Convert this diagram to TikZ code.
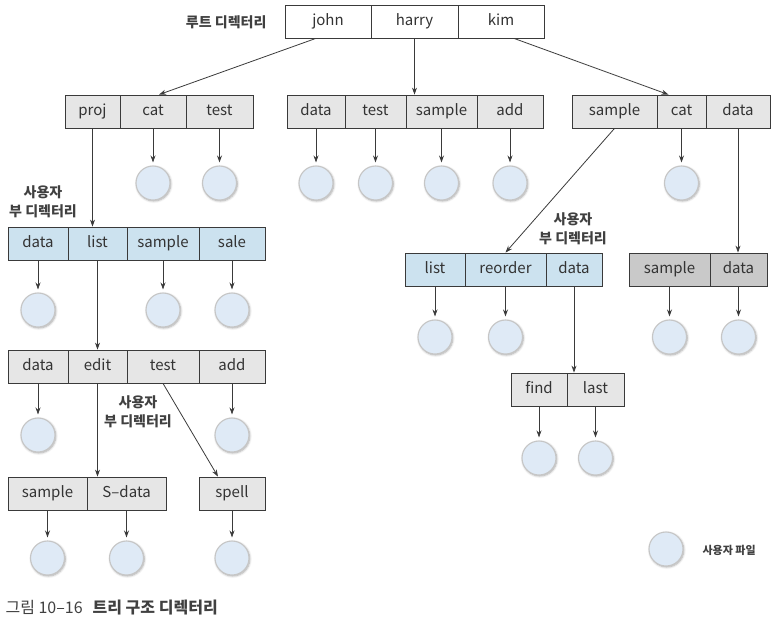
\documentclass[tikz,border=0pt]{standalone}
\usepackage{fontspec}
\setmainfont{Noto Sans CJK KR}
\usetikzlibrary{arrows.meta,calc,shadows.blur}

\definecolor{boxgray}{HTML}{E6E6E6}
\definecolor{boxblue}{HTML}{CCE2EF}
\definecolor{boxdark}{HTML}{C9C9C9}
\definecolor{filefill}{HTML}{DFEAF6}
\definecolor{lineclr}{HTML}{3A3A3A}

\tikzset{
  cell/.style={draw=lineclr, line width=0.8pt, minimum height=33pt, inner sep=0pt,
    font=\fontsize{15}{18}\selectfont, text=black!80,
    text height=12pt, text depth=4pt},
  rootcell/.style={cell, fill=white},
  gcell/.style={cell, fill=boxgray},
  bcell/.style={cell, fill=boxblue},
  dcell/.style={cell, fill=boxdark},
  file/.style={circle, minimum size=34pt, inner sep=0pt, fill=filefill,
    draw=gray!45, line width=1.1pt,
    blur shadow={shadow xshift=0.8pt, shadow yshift=-1pt, shadow blur steps=6, shadow opacity=35}},
  arr/.style={draw=lineclr, line width=0.8pt, -{Stealth[length=7pt,width=5pt]}},
  farr/.style={arr, shorten >=3pt},
  note/.style={font=\fontsize{14}{19}\selectfont\bfseries, text=black!75, align=center},
}

\begin{document}
\begin{tikzpicture}[x=1pt,y=-1pt]
\useasboundingbox (0,0) rectangle (776,627);

% root directory
\node[note, anchor=east] (rootlbl) at (270,22) {루트 디렉터리};
\node[rootcell, minimum width=86pt] (john)  at (328,21.5)   {john};
\node[rootcell, minimum width=87pt] (harry) at (414.5,21.5) {harry};
\node[rootcell, minimum width=86pt] (kim)   at (501,21.5)   {kim};

% john
\node[gcell, minimum width=55pt] (Aproj) at (92.5,111.5) {proj};
\node[gcell, minimum width=66pt] (Acat)  at (153,111.5)  {cat};
\node[gcell, minimum width=67pt] (Atest) at (219.5,111.5) {test};

% harry
\node[gcell, minimum width=58pt] (Bdata)   at (316,111.5)   {data};
\node[gcell, minimum width=61pt] (Btest)   at (375.5,111.5) {test};
\node[gcell, minimum width=71pt] (Bsample) at (441.5,111.5) {sample};
\node[gcell, minimum width=66pt] (Badd)    at (510,111.5)   {add};

% kim
\node[gcell, minimum width=85pt] (Csample) at (614.5,111.5) {sample};
\node[gcell, minimum width=49pt] (Ccat)    at (681.5,111.5) {cat};
\node[gcell, minimum width=64pt] (Cdata)   at (738,111.5)   {data};

% proj sub-directory
\node[bcell, minimum width=60pt] (Ddata)   at (38,243.5)  {data};
\node[bcell, minimum width=59pt] (Dlist)   at (97.5,243.5) {list};
\node[bcell, minimum width=72pt] (Dsample) at (163,243.5) {sample};
\node[bcell, minimum width=66pt] (Dsale)   at (232,243.5) {sale};

% list sub-directory
\node[gcell, minimum width=60pt] (Edata) at (38,366.5)  {data};
\node[gcell, minimum width=59pt] (Eedit) at (97.5,366.5) {edit};
\node[gcell, minimum width=72pt] (Etest) at (163,366.5) {test};
\node[gcell, minimum width=66pt] (Eadd)  at (232,366.5) {add};

% edit and test sub-directories
\node[gcell, minimum width=79pt] (Fsample) at (47.5,493.5)  {sample};
\node[gcell, minimum width=79pt] (Fsdata)  at (126.5,493.5) {S–data};
\node[gcell, minimum width=66pt] (spell)   at (232,493.5)   {spell};

% kim/sample sub-directory
\node[bcell, minimum width=60pt] (Glist)    at (435,269.5)   {list};
\node[bcell, minimum width=81pt] (Greorder) at (505.5,269.5) {reorder};
\node[bcell, minimum width=56pt] (Gdata)    at (574,269.5)   {data};

% kim/data sub-directory
\node[dcell, minimum width=81pt] (Hsample) at (669.5,269.5) {sample};
\node[dcell, minimum width=57pt] (Hdata)   at (738.5,269.5) {data};

% kim/sample/data sub-directory
\node[gcell, minimum width=56pt] (Ifind) at (539,389.5)   {find};
\node[gcell, minimum width=57pt] (Ilast) at (595.5,389.5) {last};

% user files
\node[file] (fAcat)  at (153,183) {};
\node[file] (fAtest) at (219.5,183) {};
\node[file] (fBdata)   at (316,183) {};
\node[file] (fBtest)   at (375.5,183) {};
\node[file] (fBsample) at (441.5,183) {};
\node[file] (fBadd)    at (510,183) {};
\node[file] (fCcat)    at (681.5,183) {};
\node[file] (fDdata)   at (38,310) {};
\node[file] (fDsample) at (163,310) {};
\node[file] (fDsale)   at (232,310) {};
\node[file] (fEdata)   at (38,435) {};
\node[file] (fEadd)    at (232,435) {};
\node[file] (fGlist)    at (435,337) {};
\node[file] (fGreorder) at (505.5,337) {};
\node[file] (fHsample)  at (669.5,337) {};
\node[file] (fHdata)    at (738.5,337) {};
\node[file] (fIfind) at (539,458) {};
\node[file] (fIlast) at (595.5,458) {};
\node[file] (fFsample) at (47.5,558) {};
\node[file] (fFsdata)  at (126.5,558) {};
\node[file] (fspell)   at (232,558) {};

% sub-directory labels
\node[note] (lblD) at (43,202)  {사용자\\부 디렉터리};
\node[note] (lblF) at (138,412) {사용자\\부 디렉터리};
\node[note] (lblG) at (573,229) {사용자\\부 디렉터리};

% directory links
\draw[arr] ($(john.south west)!0.36!(john.south east)$) -- ($(Acat.north)+(6,0)$);
\draw[arr] (harry.south) -- (harry.south |- Bsample.north);
\draw[arr] ($(kim.south west)!0.65!(kim.south east)$) -- ($(Ccat.north)+(-13,0)$);
\draw[arr] (Aproj.south) -- (Aproj.south |- Dlist.north);
\draw[arr] (Dlist.south) -- (Dlist.south |- Eedit.north);
\draw[arr] (Eedit.south) -- (Eedit.south |- Fsdata.north);
\draw[arr] (Etest.south) -- ($(spell.north)+(-14,0)$);
\draw[arr] (Csample.south) -- (Greorder.north);
\draw[arr] (Cdata.south) -- (Cdata.south |- Hdata.north);
\draw[arr] (Gdata.south) -- (Gdata.south |- Ilast.north);

% file links
\foreach \d/\f in {Acat/fAcat, Atest/fAtest, Bdata/fBdata, Btest/fBtest,
    Bsample/fBsample, Badd/fBadd, Ccat/fCcat, Ddata/fDdata, Dsample/fDsample,
    Dsale/fDsale, Edata/fEdata, Eadd/fEadd, Glist/fGlist, Greorder/fGreorder,
    Hsample/fHsample, Hdata/fHdata, Ifind/fIfind, Ilast/fIlast,
    Fsample/fFsample, Fsdata/fFsdata, spell/fspell}
  \draw[farr] (\d.south) -- (\f.north);

% legend
\node[file] (legend) at (666,549) {};
\node[font=\fontsize{11}{13}\selectfont\bfseries, text=black!75, anchor=west] (legendtxt) at (699,550) {사용자 파일};

% caption
\node[anchor=west, font=\fontsize{16}{18}\selectfont, text=black!75] (caption) at (2,608)
  {그림 10–16\hspace{10pt}{\bfseries 트리 구조 디렉터리}};
\end{tikzpicture}
\end{document}
